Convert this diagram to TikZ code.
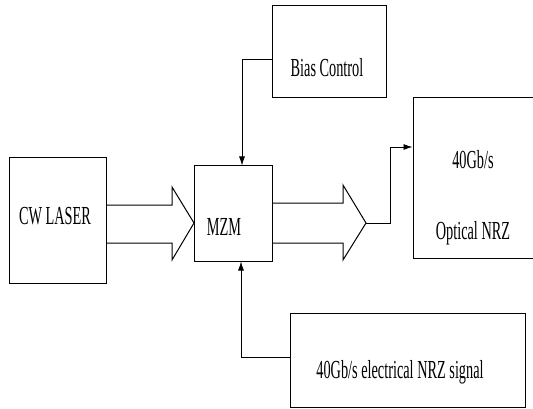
\documentclass[tikz,border=0pt]{standalone}
\usepackage{fontspec}
\newfontfamily\diagfont[FakeStretch=0.55]{Liberation Serif}
\usetikzlibrary{positioning,arrows.meta}

\tikzset{
  blk/.style={draw,line width=1pt,inner sep=0pt},
  lbl/.style={font=\diagfont\fontsize{26}{30}\selectfont,inner sep=0pt},
  fat/.style={line width=1pt,line join=miter},
}

\begin{document}
\begin{tikzpicture}[x=1pt,y=-1pt,>={Latex[length=9pt,width=6pt]},line width=0.8pt]
\useasboundingbox (0,0) rectangle (533,409);
\clip (0,0) rectangle (533,409);
% blocks
\node[blk,minimum width=97pt,minimum height=125pt] (laser) at (57.5,220.5) {};
\node[blk,minimum width=78pt,minimum height=95pt] (mzm) at (233,213.5) {};
\node[blk,minimum width=114pt,minimum height=92pt] (bias) at (329,52) {};
\node[blk,minimum width=132pt,minimum height=160pt] (optical) at (479,178) {};
\node[blk,minimum width=235pt,minimum height=94pt] (elec) at (407.5,360) {};
% texts
\node[lbl] (laser-t) at (55,216) {CW LASER};
\node[lbl] (mzm-t) at (224,227) {MZM};
\node[lbl] (bias-t) at (327,68) {Bias Control};
\node[lbl] (optical-t1) at (473,160) {40Gb/s};
\node[lbl] (optical-t2) at (473,233) {Optical NRZ};
\node[lbl] (elec-t) at (400,372) {40Gb/s electrical NRZ signal};
% optical paths
\draw[fat] (106,205) -- (172,205) -- (172,187) -- (194,223) coordinate (tip1)
  -- (172,260) -- (172,243) -- (106,243);
\draw[fat] (272,203) -- (343,203) -- (343,185) -- (366,223) coordinate (tip2)
  -- (343,260) -- (343,243) -- (272,243);
% electrical paths
\draw[->] ([yshift=-7pt]bias.west) -| ([xshift=9pt]mzm.north);
\draw[->] ([yshift=3pt]elec.west) -| ([xshift=8pt]mzm.south);
\draw[->] (tip2) -- ++(24,0) |- ([yshift=31pt]optical.west);
\end{tikzpicture}
\end{document}
